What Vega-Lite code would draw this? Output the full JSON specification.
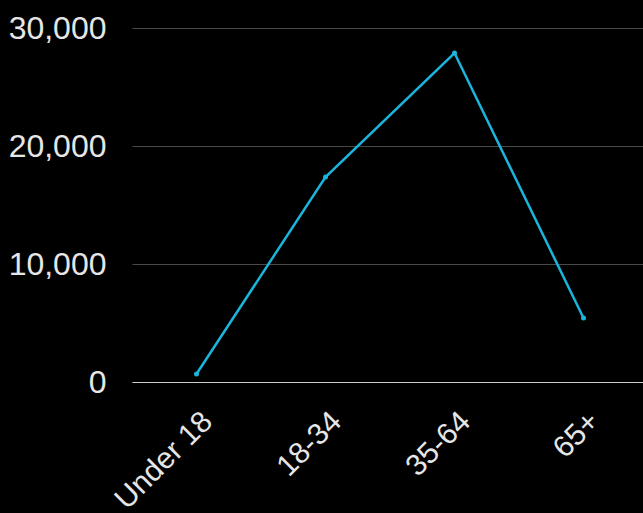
{
  "$schema": "https://vega.github.io/schema/vega-lite/v6.json",
  "autosize": "none",
  "padding": {"left": 132, "top": 28, "right": 0, "bottom": 131},
  "width": 516,
  "height": 354,
  "background": "#000000",
  "config": {
    "view": {"stroke": null},
    "font": "Liberation Sans",
    "axis": {"labelColor": "#e6e6e6", "labelFont": "Liberation Sans", "titleColor": "#e6e6e6"}
  },
  "data": {
    "values": [
      {"age": "Under 18", "count": 680},
      {"age": "18-34", "count": 17370},
      {"age": "35-64", "count": 27880},
      {"age": "65+", "count": 5420}
    ]
  },
  "mark": {"type": "line", "color": "#1ab4dc", "strokeWidth": 2.5, "point": {"filled": true, "size": 25, "color": "#1ab4dc"}},
  "encoding": {
    "x": {
      "field": "age",
      "type": "ordinal",
      "sort": null,
      "scale": {"type": "point", "padding": 0.5},
      "axis": {
        "title": null,
        "labelAngle": -45,
        "labelFontSize": 30,
        "labelPadding": 24,
        "ticks": false,
        "domain": true,
        "domainColor": "#cccccc",
        "domainWidth": 1,
        "grid": false
      }
    },
    "y": {
      "field": "count",
      "type": "quantitative",
      "scale": {"domain": [0, 30000]},
      "axis": {
        "title": null,
        "values": [0, 10000, 20000, 30000],
        "format": ",.0f",
        "labelFontSize": 32,
        "labelPadding": 26,
        "ticks": false,
        "domain": false,
        "grid": true,
        "gridColor": "#4a4a4a",
        "gridWidth": 1
      }
    }
  }
}
